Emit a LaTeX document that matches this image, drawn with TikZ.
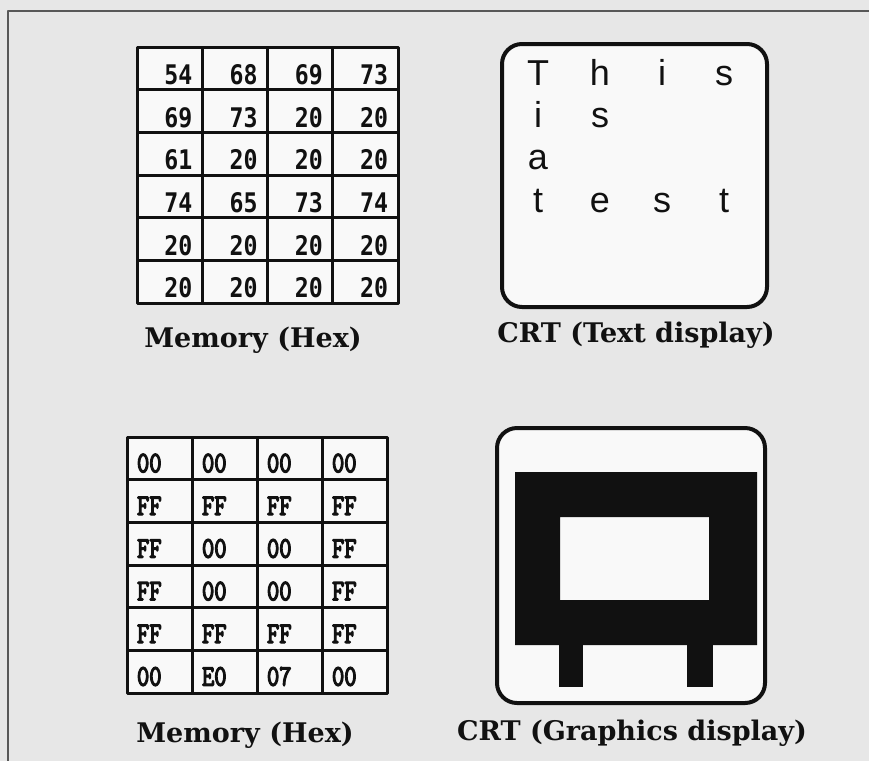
\documentclass[tikz,border=0pt]{standalone}
\usepackage{fontspec}
\usepackage{tikz}
\usetikzlibrary{positioning}
\newfontfamily\capfont{DejaVu Serif}
\newfontfamily\hexfont[FakeStretch=0.86]{DejaVu Sans Mono}
\newfontfamily\bytefont[FakeStretch=0.78, FakeBold=4]{lmmono10-regular.otf}
\newfontfamily\crtfont{Liberation Sans}
\definecolor{paper}{HTML}{E7E7E7}
\definecolor{cellwhite}{HTML}{F9F9F9}
\definecolor{ink}{HTML}{111111}
\tikzset{basic/.style={draw=ink,fill=cellwhite}}

\begin{document}
\begin{tikzpicture}[
    x=1pt, y=-1pt,               % one unit per pixel of the scan
    line join=round
  ]

  % Cell and frame styles
  \tikzset{
    memcell/.style={basic, line width=3pt, minimum width=65.25pt, minimum height=42.67pt,
      inner ysep=0pt, inner xsep=10pt, text width=45.25pt, text depth=0pt, text=ink},
    hexcell/.style={memcell, align=right, text height=32pt, font=\hexfont\bfseries\fontsize{27}{27}\selectfont},
    bytecell/.style={memcell, minimum width=65pt, text width=45pt, align=left, text height=28pt,
      font=\bytefont\fontsize{30}{30}\selectfont},
    crtframe/.style={basic, line width=4pt, rounded corners=20pt},
    crtchar/.style={anchor=base, inner sep=0pt, text=ink, font=\crtfont\fontsize{36}{36}\selectfont},
    caption/.style={anchor=base, inner sep=0pt, text=ink, font=\capfont\bfseries\fontsize{27}{27}\selectfont}
  }

  % Page background and scan edge
  \useasboundingbox (0,0) rectangle (869,761);
  \fill[paper] (0,0) rectangle (869,761);
  \draw[ink!70, line width=1.5pt] (869,11) -- (8,11) -- (8,761);

  % Text memory (Hex)
  \foreach [count=\r] \row in {{54,68,69,73},{69,73,20,20},{61,20,20,20},
                               {74,65,73,74},{20,20,20,20},{20,20,20,20}}
    \foreach [count=\c] \v in \row
      \node[hexcell] (tm-\r-\c) at ({137+65.25*(\c-0.5)}, {47+42.67*(\r-0.5)}) {\v};
  \node[caption] (tmcap) at (253,347) {Memory (Hex)};

  % CRT with text display
  \node[crtframe, minimum width=265pt, minimum height=263pt] (crttext) at (634.5,175.5) {};
  \foreach \ch/\c/\r in {T/1/1, h/2/1, i/3/1, s/4/1, i/1/2, s/2/2, a/1/3,
                         t/1/4, e/2/4, s/3/4, t/4/4}
    \node[crtchar] (ch-\r-\c) at ({476+62*\c}, {43+42.3*\r}) {\ch};
  \node[caption] (crtcap) at (636,342) {CRT (Text display)};

  % Graphics memory (Hex)
  \foreach [count=\r] \row in {{00,00,00,00},{FF,FF,FF,FF},{FF,00,00,FF},
                               {FF,00,00,FF},{FF,FF,FF,FF},{00,E0,07,00}}
    \foreach [count=\c] \v in \row
      \node[bytecell] (gm-\r-\c) at ({127+65*(\c-0.5)}, {437+42.67*(\r-0.5)}) {\v};
  \node[caption] (gmcap) at (245,742) {Memory (Hex)};

  % CRT with graphics display
  \node[crtframe, minimum width=268pt, minimum height=275pt] (crtgfx) at (631,565.5) {};
  \fill[ink, even odd rule] (515,472) rectangle (757,645) (560,517) rectangle (709,600);
  \fill[ink] (559,644) rectangle (583,687);
  \fill[ink] (687,644) rectangle (713,687);
  \node[caption] (gfxcap) at (632,740) {CRT (Graphics display)};

\end{tikzpicture}
\end{document}
